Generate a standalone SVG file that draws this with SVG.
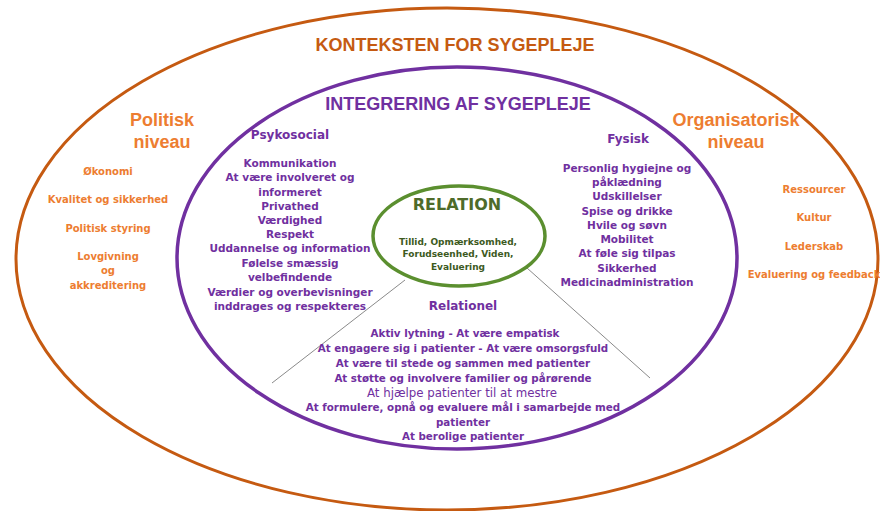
<svg xmlns="http://www.w3.org/2000/svg" width="880" height="511" viewBox="0 0 880 511">
<style>
.title{font-family:"Liberation Sans",Arial,sans-serif;font-weight:bold;font-size:18px;text-anchor:middle}
.lvl{font-family:"Liberation Sans",Arial,sans-serif;font-weight:bold;font-size:18px;fill:#ed7d31;text-anchor:middle}
.oi{font-family:"DejaVu Sans",sans-serif;font-weight:bold;font-size:10px;fill:#ed7d31;text-anchor:middle}
.ph{font-family:"DejaVu Sans",sans-serif;font-weight:bold;font-size:12px;fill:#7030a0;text-anchor:middle}
.pi{font-family:"DejaVu Sans",sans-serif;font-weight:bold;font-size:10.5px;fill:#7030a0;text-anchor:middle}
.ri{font-family:"DejaVu Sans",sans-serif;font-weight:bold;font-size:10.3px;fill:#7030a0;text-anchor:middle}
.gi{font-family:"DejaVu Sans",sans-serif;font-weight:bold;font-size:9px;fill:#3d5a1e;text-anchor:middle}
.conn{stroke:#8a8a8a;stroke-width:1;fill:none}
</style>
<rect width="880" height="511" fill="#ffffff"/>
<g id="kontekst">
<ellipse cx="447" cy="259" rx="431" ry="251" fill="none" stroke="#c55a11" stroke-width="3"/>
<text class="title" x="455" y="51" fill="#c55a11">KONTEKSTEN FOR SYGEPLEJE</text>
</g>
<g id="politisk">
<text class="lvl" x="162" y="126">Politisk</text>
<text class="lvl" x="162" y="148">niveau</text>
<text class="oi" x="108" y="175">Økonomi</text>
<text class="oi" x="108" y="203">Kvalitet og sikkerhed</text>
<text class="oi" x="108" y="232">Politisk styring</text>
<text class="oi" x="108" y="260">Lovgivning</text>
<text class="oi" x="108" y="274">og</text>
<text class="oi" x="108" y="289">akkreditering</text>
</g>
<g id="organisatorisk">
<text class="lvl" x="736" y="126">Organisatorisk</text>
<text class="lvl" x="736" y="148">niveau</text>
<text class="oi" x="814" y="193">Ressourcer</text>
<text class="oi" x="814" y="221">Kultur</text>
<text class="oi" x="814" y="250">Lederskab</text>
<text class="oi" x="814" y="278">Evaluering og feedback</text>
</g>
<g id="integrering">
<ellipse cx="457" cy="258" rx="280" ry="191" fill="none" stroke="#7030a0" stroke-width="3.5"/>
<text class="title" x="458" y="110" fill="#7030a0">INTEGRERING AF SYGEPLEJE</text>
</g>
<g id="connectors">
<line class="conn" x1="405" y1="280" x2="272" y2="383"/>
<line class="conn" x1="527" y1="268" x2="650" y2="378"/>
</g>
<g id="psykosocial">
<text class="ph" x="290" y="139">Psykosocial</text>
<text class="pi" x="290" y="167">Kommunikation</text>
<text class="pi" x="290" y="181">At være involveret og</text>
<text class="pi" x="290" y="195.5">informeret</text>
<text class="pi" x="290" y="210">Privathed</text>
<text class="pi" x="290" y="224">Værdighed</text>
<text class="pi" x="290" y="238">Respekt</text>
<text class="pi" x="290" y="252">Uddannelse og information</text>
<text class="pi" x="290" y="267">Følelse smæssig</text>
<text class="pi" x="290" y="281">velbefindende</text>
<text class="pi" x="290" y="295.5">Værdier og overbevisninger</text>
<text class="pi" x="290" y="309.5">inddrages og respekteres</text>
</g>
<g id="fysisk">
<text class="ph" x="628" y="143">Fysisk</text>
<text class="pi" x="627" y="172">Personlig hygiejne og</text>
<text class="pi" x="627" y="186">påklædning</text>
<text class="pi" x="627" y="200">Udskillelser</text>
<text class="pi" x="627" y="215">Spise og drikke</text>
<text class="pi" x="627" y="229">Hvile og søvn</text>
<text class="pi" x="627" y="243">Mobilitet</text>
<text class="pi" x="627" y="257">At føle sig tilpas</text>
<text class="pi" x="627" y="272">Sikkerhed</text>
<text class="pi" x="627" y="286">Medicinadministration</text>
</g>
<g id="relationel">
<text class="ph" x="463" y="310">Relationel</text>
<text class="ri" x="465" y="337">Aktiv lytning  - At være empatisk</text>
<text class="ri" x="463" y="352">At engagere sig i patienter - At være omsorgsfuld</text>
<text class="ri" x="463" y="366.5">At være til stede og sammen med patienter</text>
<text class="ri" x="463" y="381.5">At støtte og involvere familier og pårørende</text>
<text x="462" y="397" font-family="DejaVu Sans,sans-serif" font-size="11.8px" fill="#7030a0" text-anchor="middle">At hjælpe patienter til at mestre</text>
<text class="ri" x="463" y="411">At formulere, opnå og evaluere mål i samarbejde med</text>
<text class="ri" x="463" y="425.5">patienter</text>
<text class="ri" x="463" y="440">At berolige patienter</text>
</g>
<g id="relation">
<ellipse cx="459" cy="236" rx="86" ry="50" fill="#ffffff" stroke="#5b8f2f" stroke-width="3.5"/>
<text x="457" y="210" font-family="DejaVu Sans,sans-serif" font-weight="bold" font-size="16px" fill="#4e6b2a" text-anchor="middle">RELATION</text>
<text class="gi" x="458" y="245">Tillid, Opmærksomhed,</text>
<text class="gi" x="458" y="257">Forudseenhed, Viden,</text>
<text class="gi" x="458" y="270">Evaluering</text>
</g>
</svg>
